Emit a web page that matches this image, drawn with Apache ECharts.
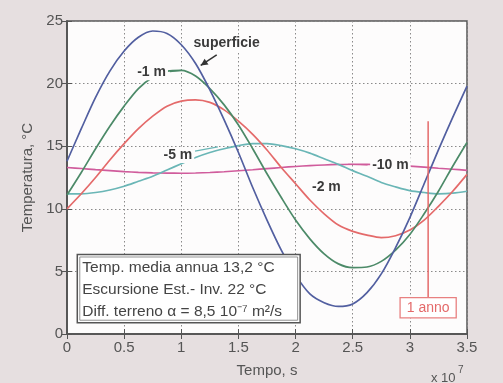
<!DOCTYPE html>
<html><head><meta charset="utf-8">
<script src="https://cdn.jsdelivr.net/npm/echarts@6/dist/echarts.min.js"></script>
<style>html,body{margin:0;padding:0;background:#e6dfe0;}#c{width:503px;height:383px;}</style>
</head><body><div id="c"></div>
<script>
// Time, units of 1e7 s (read every 0.125)
const times = [0, 0.125, 0.25, 0.375, 0.5, 0.625, 0.75, 0.875, 1.0, 1.125, 1.25, 1.375, 1.5, 1.625, 1.75, 1.875,
  2.0, 2.125, 2.25, 2.375, 2.5, 2.625, 2.75, 2.875, 3.0, 3.125, 3.25, 3.375, 3.5];
const xTickLabels = ['0', '0.5', '1', '1.5', '2', '2.5', '3', '3.5'];
const yTickLabels = ['0', '5', '10', '15', '20', '25'];
// Temperatures, °C
const surface = [13.8, 16.4, 18.9, 21.0, 22.6, 23.7, 24.2, 24.0, 23.1, 21.6, 19.5, 17.1, 14.5, 11.7, 9.1, 6.7,
  4.7, 3.2, 2.5, 2.2, 2.4, 3.3, 4.8, 6.9, 9.3, 12.0, 14.7, 17.3, 19.8];
const depth1m = [11.1, 12.9, 14.8, 16.6, 18.2, 19.6, 20.5, 21.0, 21.05, 20.6, 19.6, 18.3, 16.7, 14.8, 12.8, 10.9,
  9.1, 7.6, 6.4, 5.6, 5.3, 5.35, 5.8, 6.7, 7.95, 9.6, 11.4, 13.4, 15.3];
const depth2m = [10.0, 11.2, 12.5, 13.9, 15.2, 16.4, 17.4, 18.2, 18.6, 18.7, 18.5, 17.9, 17.0, 15.95, 14.7, 13.3,
  12.0, 10.7, 9.6, 8.7, 8.2, 7.9, 7.7, 7.85, 8.3, 9.1, 10.2, 11.4, 12.75];
const depth5m = [11.2, 11.2, 11.3, 11.5, 11.8, 12.2, 12.6, 13.1, 13.6, 14.1, 14.5, 14.8, 15.05, 15.2, 15.2, 15.05,
  14.8, 14.45, 14.0, 13.55, 13.05, 12.6, 12.1, 11.75, 11.45, 11.3, 11.2, 11.25, 11.4];
const depth10m = [13.3, 13.22, 13.13, 13.05, 12.97, 12.91, 12.87, 12.85, 12.84, 12.86, 12.9, 12.96, 13.04, 13.12, 13.21, 13.3,
  13.38, 13.45, 13.5, 13.54, 13.56, 13.55, 13.52, 13.47, 13.41, 13.33, 13.24, 13.16, 13.07];
const seriesNames = ['superficie', '-1 m', '-2 m', '-5 m', '-10 m'];
const seriesColors = ['#525fa0', '#4c8a68', '#e46a6a', '#6ab6b6', '#d05c9c'];
const infoLines = ['Temp. media annua 13,2 °C', 'Escursione Est.- Inv. 22 °C', 'Diff. terreno α = 8,5 10⁻⁷ m²/s'];
const yearMark = 3.16;

const allSeries = [surface, depth1m, depth2m, depth5m, depth10m];
const font = 'Liberation Sans, Arial, sans-serif';

const chart = echarts.init(document.getElementById('c'), null, {renderer: 'canvas'});
const axisCommon = {
  axisLine: {show: true, lineStyle: {color: '#555', width: 1.5}},
  axisTick: {show: true, inside: true, length: 5, lineStyle: {color: '#555'}},
};
chart.setOption({
  backgroundColor: '#e6dfe0',
  animation: false,
  grid: {left: 67, right: 36, top: 21, bottom: 49, show: true, backgroundColor: '#fdfcfc', borderColor: '#555', borderWidth: 1.5},
  xAxis: [{
    type: 'value', min: 0, max: 3.5, interval: 0.5,
    ...axisCommon,
    axisLabel: {color: '#555', fontSize: 15, fontFamily: font, margin: 6,
      formatter: v => xTickLabels[Math.round(v / 0.5)]},
    splitLine: {show: true, lineStyle: {color: '#8a8a8a', type: [1.5, 2.5], width: 1}},
    name: 'Tempo, s', nameLocation: 'middle', nameGap: 29,
    nameTextStyle: {color: '#555', fontSize: 15, fontFamily: font}
  }, {
    type: 'value', min: 0, max: 3.5, interval: 0.5, position: 'top',
    ...axisCommon, axisLabel: {show: false}, splitLine: {show: false}
  }],
  yAxis: [{
    type: 'value', min: 0, max: 25, interval: 5,
    ...axisCommon,
    axisLabel: {color: '#555', fontSize: 15, fontFamily: font, margin: 4,
      formatter: v => yTickLabels[Math.round(v / 5)]},
    splitLine: {show: true, lineStyle: {color: '#8a8a8a', type: [1.5, 2.5], width: 1}},
    name: 'Temperatura, °C', nameLocation: 'middle', nameGap: 29, nameRotate: 90,
    nameTextStyle: {color: '#555', fontSize: 15, fontFamily: font}
  }, {
    type: 'value', min: 0, max: 25, interval: 5, position: 'right',
    ...axisCommon, axisLabel: {show: false}, splitLine: {show: false}
  }],
  series: allSeries.map((vals, i) => ({
    name: seriesNames[i], type: 'line', smooth: 0.3, showSymbol: false,
    data: times.map((t, k) => [t, vals[k]]),
    lineStyle: {color: seriesColors[i], width: 1.7}, z: 2 + (5 - i)
  }))
});

// Annotations, anchored in data coordinates
const px = (t, T) => chart.convertToPixel({xAxisIndex: 0, yAxisIndex: 0}, [t, T]);
const labelStyle = {fontFamily: font, fontSize: 14, fontWeight: 'bold', fill: '#3a3a3a'};
function label(txt, t, T, align) {
  const p = px(t, T);
  return {type: 'text', x: p[0], y: p[1], z: 20,
    style: {...labelStyle, text: txt, align: align || 'center', verticalAlign: 'middle',
      backgroundColor: '#fdfcfc', padding: [1, 2]}};
}
function seg(a, b, color, w) {
  const p1 = px(a[0], a[1]), p2 = px(b[0], b[1]);
  return {type: 'line', z: 19, shape: {x1: p1[0], y1: p1[1], x2: p2[0], y2: p2[1]},
    style: {stroke: color, lineWidth: w || 1.2}};
}
const g = [];
g.push(label('superficie', 1.09, 23.2, 'left'));
// arrow
const aFrom = px(1.31, 22.3), aTo = px(1.17, 21.45);
g.push({type: 'line', z: 19, shape: {x1: aFrom[0], y1: aFrom[1], x2: aTo[0], y2: aTo[1]}, style: {stroke: '#333', lineWidth: 1.5}});
(function () {
  const dx = aTo[0] - aFrom[0], dy = aTo[1] - aFrom[1], L = Math.hypot(dx, dy);
  const ux = dx / L, uy = dy / L, s = 7, w = 3.5;
  g.push({type: 'polygon', z: 19, shape: {points: [
    [aTo[0], aTo[1]],
    [aTo[0] - ux * s - uy * w, aTo[1] - uy * s + ux * w],
    [aTo[0] - ux * s + uy * w, aTo[1] - uy * s - ux * w]]}, style: {fill: '#333'}});
})();
g.push(seg([0.9, 20.95], [1.0, 21.05], '#4c8a68'));
g.push(label('-1 m', 0.74, 20.9));
g.push(seg([1.12, 14.6], [1.32, 14.95], '#6ab6b6'));
g.push(label('-5 m', 0.97, 14.3));
g.push(label('-2 m', 2.27, 11.7));
g.push(seg([2.46, 13.55], [2.63, 13.5], '#d05c9c'));
g.push(label('-10 m', 2.83, 13.5));

// 1 anno marker
g.push(seg([yearMark, 17.0], [yearMark, 2.9], '#e46a6a', 1.5));
const ya = px(yearMark, 2.1);
g.push({type: 'text', x: ya[0], y: ya[1], z: 21,
  style: {text: '1 anno', fontFamily: font, fontSize: 14, fill: '#e46a6a', align: 'center', verticalAlign: 'middle',
    backgroundColor: '#fff', borderColor: '#e88080', borderWidth: 1.3, padding: [3, 6, 2, 6]}});

// Info box
const b0 = px(0.09, 6.35), b1 = px(2.04, 0.9);
g.push({type: 'rect', z: 21, shape: {x: b0[0], y: b0[1], width: b1[0] - b0[0], height: b1[1] - b0[1]},
  style: {fill: '#fff', stroke: '#555', lineWidth: 1.5}});
g.push({type: 'rect', z: 21, shape: {x: b0[0] + 2.5, y: b0[1] + 2.5, width: b1[0] - b0[0] - 5, height: b1[1] - b0[1] - 5},
  style: {fill: 'none', stroke: '#777', lineWidth: 0.8}});
infoLines.forEach((ln, i) => {
  g.push({type: 'text', x: b0[0] + 5, y: b0[1] + 13 + i * 22, z: 22,
    style: {text: ln, fontFamily: font, fontSize: 15.5, fill: '#444', align: 'left', verticalAlign: 'middle'}});
});

// x 10^7 multiplier
const m = px(3.5, 0);
g.push({type: 'text', x: m[0] - 36, y: m[1] + 44, z: 20,
  style: {text: 'x 10', fontFamily: font, fontSize: 13, fill: '#555', align: 'left', verticalAlign: 'middle'}});
g.push({type: 'text', x: m[0] - 9, y: m[1] + 36, z: 20,
  style: {text: '7', fontFamily: font, fontSize: 10, fill: '#555', align: 'left', verticalAlign: 'middle'}});

chart.setOption({graphic: g});
</script>
</body></html>
